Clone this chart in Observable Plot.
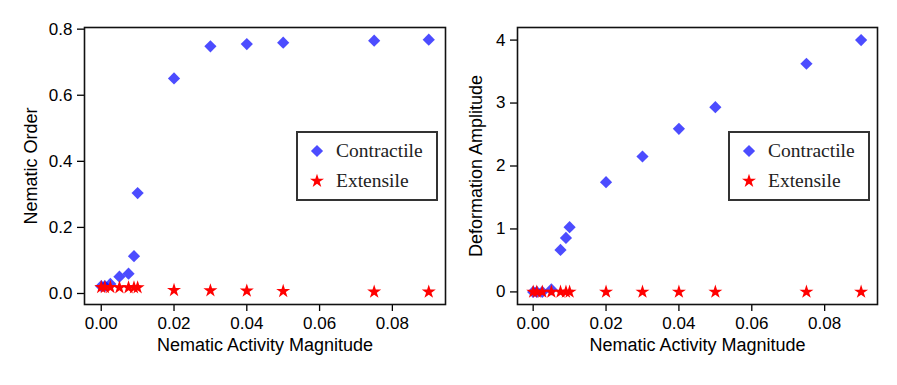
<!DOCTYPE html>
<html><head><meta charset="utf-8">
<script src="https://cdn.jsdelivr.net/npm/d3@7"></script>
<script src="https://cdn.jsdelivr.net/npm/@observablehq/plot@0.6"></script>
<style>
body{margin:0;background:#fff;}
#wrap{position:relative;width:897px;height:385px;overflow:hidden;}
.panel{position:absolute;top:0;}
.legend{position:absolute;border:2px solid #333;background:#fff;box-sizing:border-box;font-family:"Liberation Serif","DejaVu Serif",serif;font-size:19.5px;color:#222;}
.legend .row{position:absolute;left:0;height:22px;line-height:22px;white-space:nowrap;}
.legend svg{position:absolute;left:0;top:1px;}
</style></head><body>
<div id="wrap"></div>
<script>
// ---- data ----
const activity = [0, 0.001, 0.0025, 0.005, 0.0075, 0.009, 0.01, 0.02, 0.03, 0.04, 0.05, 0.075, 0.09];
const orderContractile = [0.022, 0.022, 0.029, 0.051, 0.060, 0.113, 0.304, 0.651, 0.748, 0.755, 0.759, 0.765, 0.768];
const orderExtensile   = [0.019, 0.019, 0.019, 0.018, 0.018, 0.018, 0.018, 0.010, 0.009, 0.008, 0.007, 0.005, 0.005];
const amplitudeContractile = [0.0, 0.0, 0.0, 0.04, 0.667, 0.858, 1.028, 1.743, 2.151, 2.59, 2.935, 3.624, 4.0];
const amplitudeExtensile   = [0, 0, 0, 0, 0, 0, 0, 0, 0, 0, 0, 0, 0];
const seriesNames = ["Contractile", "Extensile"];
const xTicks = [0, 0.02, 0.04, 0.06, 0.08];
const xTickLabels = ["0.00", "0.02", "0.04", "0.06", "0.08"];
const orderTicks = [0, 0.2, 0.4, 0.6, 0.8];
const orderTickLabels = ["0.0", "0.2", "0.4", "0.6", "0.8"];
const ampTicks = [0, 1, 2, 3, 4];
const ampTickLabels = ["0", "1", "2", "3", "4"];
const xLabel = "Nematic Activity Magnitude";
const colors = {Contractile: "#0000ff", Extensile: "#ff0000"};

const wrap = document.getElementById("wrap");
const DIAMOND_R = 5.5, STAR_R = 4.4;

function panel(o) {
  const rows = activity.map((a, i) => ({a, c: o.c[i], e: o.e[i]}));
  const chart = Plot.plot({
    width: o.width, height: 385,
    marginLeft: o.marginLeft, marginRight: o.marginRight, marginTop: 27, marginBottom: 81,
    style: {fontFamily: "'Liberation Sans', Arial, sans-serif", fontSize: "17px", color: "#000", background: "transparent", overflow: "visible"},
    x: {domain: o.xDomain},
    y: {domain: o.yDomain},
    marks: [
      Plot.axisX(xTicks, {tickFormat: (d, i) => xTickLabels[i], tickSize: 7, tickPadding: 5, fontSize: 17, strokeWidth: 1.3, label: null}),
      Plot.axisY(o.yTicks, {tickFormat: (d, i) => o.yTickLabels[i], tickSize: 7, tickPadding: 5, fontSize: 17, strokeWidth: 1.3, label: null}),
      Plot.text([xLabel], {frameAnchor: "bottom", dy: 46, fontSize: 18, fill: "#000"}),
      Plot.text([o.yLabel], {frameAnchor: "left", textAnchor: "middle", dx: -o.yLabelOffset, rotate: -90, fontSize: 18, fill: "#000"}),
      Plot.dot(rows, {x: "a", y: "c", symbol: "diamond2", r: DIAMOND_R, fill: colors.Contractile, fillOpacity: 0.7, stroke: null}),
      Plot.dot(rows, {x: "a", y: "e", symbol: "star", r: STAR_R, fill: colors.Extensile, stroke: null}),
      Plot.frame({stroke: "#111", strokeWidth: 1.6})
    ]
  });
  chart.classList.add("panel");
  chart.style.left = o.left + "px";
  wrap.appendChild(chart);

  // legend
  const lg = document.createElement("div");
  lg.className = "legend";
  Object.assign(lg.style, {left: o.legend[0] + "px", top: o.legend[1] + "px", width: o.legend[2] + "px", height: o.legend[3] + "px"});
  const symbols = [[d3.symbolDiamond2, DIAMOND_R, 0.7], [d3.symbolStar, STAR_R, 1]];
  seriesNames.forEach((name, i) => {
    const row = document.createElement("div");
    row.className = "row";
    row.style.top = (7 + i * 29.6) + "px";
    row.style.left = "9px";
    const s = d3.create("svg").attr("width", 20).attr("height", 20);
    const r = symbols[i][1];
    s.append("path").attr("transform", "translate(10,10)")
      .attr("d", d3.symbol(symbols[i][0], r * r * Math.PI)())
      .attr("fill", colors[name]).attr("fill-opacity", symbols[i][2]);
    row.appendChild(s.node());
    const t = document.createElement("span");
    t.textContent = name;
    t.style.marginLeft = "29px";
    row.appendChild(t);
    lg.appendChild(row);
  });
  wrap.appendChild(lg);
}

panel({left: 0, width: 448, marginLeft: 84, marginRight: 3,
  xDomain: [-0.0046, 0.0946], yDomain: [-0.0333, 0.805],
  yTicks: orderTicks, yTickLabels: orderTickLabels, yLabel: "Nematic Order", yLabelOffset: 53,
  c: orderContractile, e: orderExtensile, legend: [296, 131, 142, 70]});
panel({left: 448, width: 449, marginLeft: 69, marginRight: 20,
  xDomain: [-0.0043, 0.0945], yDomain: [-0.2, 4.2],
  yTicks: ampTicks, yTickLabels: ampTickLabels, yLabel: "Deformation Amplitude", yLabelOffset: 41,
  c: amplitudeContractile, e: amplitudeExtensile, legend: [728, 131, 142, 70]});
</script>
</body></html>
